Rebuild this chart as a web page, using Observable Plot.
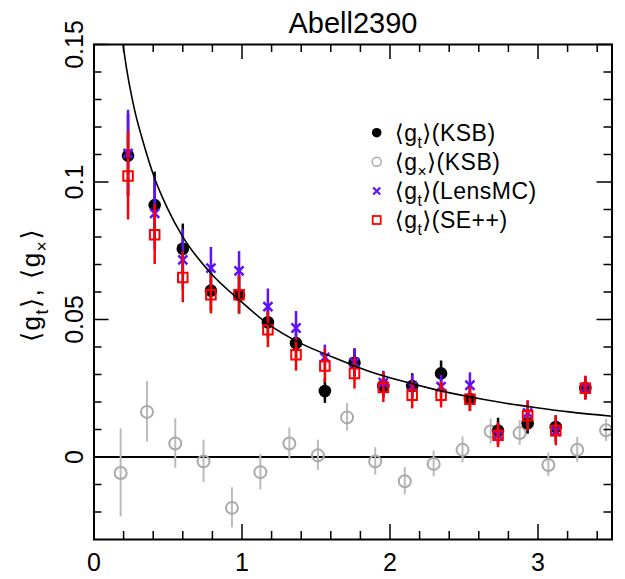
<!DOCTYPE html>
<html><head><meta charset="utf-8">
<script src="https://cdn.jsdelivr.net/npm/d3@7"></script>
<script src="https://cdn.jsdelivr.net/npm/@observablehq/plot@0.6"></script>
<style>body{margin:0;background:#fff}</style>
</head><body><div id="chart"></div>
<script>
// ---- data ----
const title = "Abell2390";
const rBins = [0.23, 0.41, 0.60, 0.79, 0.98, 1.175, 1.365, 1.56, 1.76, 1.955, 2.15, 2.345, 2.54, 2.73, 2.93, 3.12, 3.32];
const gtKSB = [0.1096, 0.0916, 0.0757, 0.0605, 0.0590, 0.0490, 0.0414, 0.0240, 0.0343, 0.0258, 0.0258, 0.0304, 0.0211, 0.0096, 0.0123, 0.0109, 0.0251];
const gtKSBErr = [0.015, 0.012, 0.009, 0.0075, 0.007, 0.006, 0.0055, 0.0045, 0.005, 0.0045, 0.0045, 0.0045, 0.0045, 0.0045, 0.004, 0.004, 0.004];
const gtLens = [0.1104, 0.0886, 0.0717, 0.0687, 0.0677, 0.0547, 0.0469, 0.0362, 0.0344, 0.0270, 0.0256, 0.0256, 0.0261, 0.0081, 0.0160, 0.0093, 0.0251];
const gtLensErr = [0.0157, 0.0133, 0.011, 0.0075, 0.007, 0.0064, 0.006, 0.0045, 0.0049, 0.0042, 0.0042, 0.004, 0.0045, 0.004, 0.0042, 0.004, 0.004];
const gtSE = [0.1022, 0.0808, 0.0653, 0.0590, 0.0590, 0.0463, 0.0372, 0.0331, 0.0304, 0.0253, 0.0225, 0.0225, 0.0210, 0.0079, 0.0150, 0.0096, 0.0250];
const gtSEErr = [0.016, 0.0108, 0.0092, 0.007, 0.007, 0.0065, 0.006, 0.0062, 0.0057, 0.0055, 0.005, 0.0047, 0.0045, 0.0045, 0.0055, 0.0055, 0.0044];
const rBinsX = [0.18, 0.358, 0.549, 0.74, 0.932, 1.124, 1.32, 1.513, 1.71, 1.90, 2.10, 2.295, 2.49, 2.68, 2.876, 3.07, 3.265, 3.46];
const gxKSB = [-0.0058, 0.0164, 0.0049, -0.0016, -0.0185, -0.0055, 0.0049, 0.0006, 0.0144, -0.0016, -0.0088, -0.0025, 0.0026, 0.0093, 0.0087, -0.0029, 0.0026, 0.0097];
const gxKSBErr = [0.016, 0.011, 0.009, 0.0077, 0.0073, 0.0065, 0.0057, 0.0055, 0.005, 0.005, 0.0049, 0.0047, 0.0047, 0.0045, 0.0045, 0.0043, 0.0045, 0.004];
const modelR = [0.196, 0.223, 0.268, 0.335, 0.414, 0.493, 0.597, 0.786, 0.984, 1.18, 1.394, 1.62, 1.847, 2.075, 2.30, 2.528, 2.754, 2.98, 3.21, 3.50];
const modelG = [0.150, 0.1403, 0.1277, 0.1140, 0.1007, 0.0908, 0.0803, 0.0670, 0.0570, 0.0482, 0.0414, 0.0362, 0.0314, 0.0277, 0.0246, 0.0220, 0.0198, 0.0180, 0.0164, 0.0148];
const xDomain = [0, 3.5];
const yDomain = [-0.03, 0.15];
const xMajor = [0, 1, 2, 3];
const xMinor = [0.2, 0.4, 0.6, 0.8, 1.2, 1.4, 1.6, 1.8, 2.2, 2.4, 2.6, 2.8, 3.2, 3.4];
const yMajor = [0, 0.05, 0.1, 0.15];
const yMinor = [-0.02, -0.01, 0.01, 0.02, 0.03, 0.04, 0.06, 0.07, 0.08, 0.09, 0.11, 0.12, 0.13, 0.14];
const yTickLabels = ["0", "0.05", "0.1", "0.15"];
const legendItems = ["KSB", "KSB", "LensMC", "SE++"];

// ---- layout ----
const W = 625, H = 579, mL = 93.5, mR = 13.5, mT = 44, mB = 40;
const innerW = W - mL - mR, innerH = H - mT - mB;
const font = "'Liberation Sans', 'DejaVu Sans', sans-serif";
const cBlue = "#6010ff", cGray = "#aaaaaa", cRed = "#ff0000";

const rows = (xs, vs, es) => xs.map((r, i) => ({r, v: vs[i], e: es[i]}));
const ksb = rows(rBins, gtKSB, gtKSBErr);
const lens = rows(rBins, gtLens, gtLensErr);
const se = rows(rBins, gtSE, gtSEErr);
const gx = rows(rBinsX, gxKSB, gxKSBErr);
const model = modelR.map((r, i) => ({r, g: modelG[i]}));
const err = (data, stroke, w) => Plot.ruleX(data, {x: "r", y1: d => d.v - d.e, y2: d => d.v + d.e, stroke, strokeWidth: w});

const svg = Plot.plot({
  width: W, height: H,
  marginLeft: mL, marginRight: mR, marginTop: mT, marginBottom: mB,
  x: {domain: xDomain},
  y: {domain: yDomain},
  style: {fontFamily: font, fontSize: "25px", color: "black", background: "white"},
  marks: [
    Plot.ruleY([0], {stroke: "black", strokeWidth: 2}),
    // gx KSB
    err(gx, "#bbbbbb", 2),
    Plot.dot(gx, {x: "r", y: "v", r: 6, stroke: cGray, strokeWidth: 2, fill: "white", fillOpacity: 0}),
    // gt KSB
    err(ksb, "black", 2.5),
    Plot.dot(ksb, {x: "r", y: "v", r: 6.3, fill: "black"}),
    // gt LensMC
    err(lens, cBlue, 2.5),
    Plot.dot(lens, {x: "r", y: "v", symbol: "times", r: 4.2, stroke: cBlue, strokeWidth: 2.5}),
    // gt SE++
    err(se, cRed, 2.5),
    Plot.dot(se, {x: "r", y: "v", symbol: "square", r: 5.4, stroke: cRed, strokeWidth: 2, fill: "none"}),
    // model
    Plot.line(model, {x: "r", y: "g", curve: "monotone-x", stroke: "black", strokeWidth: 1.6, clip: true}),
    // frame and inward ticks on all sides
    Plot.frame({stroke: "black", strokeWidth: 2}),
    Plot.tickX(xMinor, {x: d => d, insetTop: innerH - 8, strokeWidth: 1.5}),
    Plot.tickX(xMinor, {x: d => d, insetBottom: innerH - 8, strokeWidth: 1.5}),
    Plot.tickX(xMajor, {x: d => d, insetTop: innerH - 15, strokeWidth: 1.5}),
    Plot.tickX(xMajor, {x: d => d, insetBottom: innerH - 15, strokeWidth: 1.5}),
    Plot.tickY(yMinor, {y: d => d, insetRight: innerW - 8, strokeWidth: 1.5}),
    Plot.tickY(yMinor, {y: d => d, insetLeft: innerW - 8, strokeWidth: 1.5}),
    Plot.tickY(yMajor, {y: d => d, insetRight: innerW - 15, strokeWidth: 1.5}),
    Plot.tickY(yMajor, {y: d => d, insetLeft: innerW - 15, strokeWidth: 1.5}),
    Plot.axisX({ticks: xMajor, tickSize: 0, tickPadding: 14, label: null, tickFormat: d => String(d), fontSize: 25}),
    Plot.axisY({ticks: yMajor, tickSize: 0, tickPadding: 11, tickRotate: -90, label: null, tickFormat: (d, i) => yTickLabels[yMajor.indexOf(d)], fontSize: 25}),
    Plot.text([title], {frameAnchor: "top", dy: -12, lineAnchor: "bottom", fontSize: 29, text: d => d})
  ]
});
document.getElementById("chart").appendChild(svg);

// ---- annotations with subscripts (y label, legend) ----
const s = d3.select(svg);
function richText(g, parts, size) {
  const t = g.append("text").attr("font-family", font).attr("font-size", size).attr("fill", "black");
  let shifted = false;
  parts.forEach(([txt, sub]) => {
    const sp = t.append("tspan").text(txt);
    if (sub && !shifted) { sp.attr("dy", size * 0.3).attr("font-size", size * 0.68); shifted = true; }
    else if (!sub && shifted) { sp.attr("dy", -size * 0.3); shifted = false; }
  });
  return t;
}
// y label
const yl = s.append("g").attr("transform", "translate(40,285) rotate(-90)");
richText(yl, [["⟨g", 0], ["t", 1], ["⟩, ⟨g", 0], ["×", 1], ["⟩", 0]], 26).attr("text-anchor", "middle").attr("letter-spacing", 1.5);

// legend
const subs = ["t", "×", "t", "t"];
const legY = [132.7, 161.7, 191, 220];
const leg = s.append("g");
legendItems.forEach((name, i) => {
  const g = leg.append("g").attr("transform", `translate(376.7,${legY[i]})`);
  if (i === 0) g.append("circle").attr("r", 4.8).attr("fill", "black");
  if (i === 1) g.append("circle").attr("r", 4.5).attr("fill", "none").attr("stroke", cGray).attr("stroke-width", 1.5);
  if (i === 2) g.append("path").attr("d", "M-3.5,-3.5L3.5,3.5M-3.5,3.5L3.5,-3.5").attr("stroke", cBlue).attr("stroke-width", 2.2);
  if (i === 3) g.append("rect").attr("x", -4).attr("y", -4).attr("width", 8).attr("height", 8).attr("fill", "none").attr("stroke", cRed).attr("stroke-width", 1.8);
  const tg = g.append("g").attr("transform", "translate(18,8)");
  richText(tg, [["⟨g", 0], [subs[i], 1], ["⟩(" + name + ")", 0]], 23).attr("text-anchor", "start").attr("letter-spacing", 0.5);
});
</script>
</body></html>
